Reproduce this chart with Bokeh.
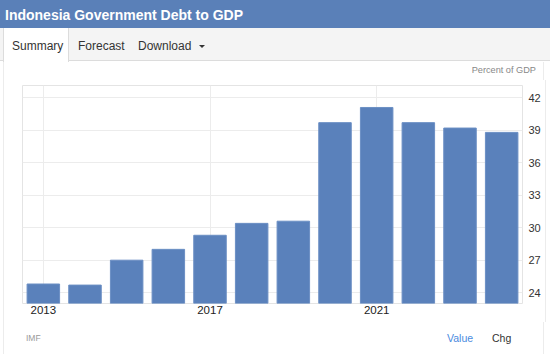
from bokeh.plotting import figure
from bokeh.models import Div, FixedTicker, ColumnDataSource, Range1d
from bokeh.layouts import column
from bokeh.embed import file_html
from bokeh.resources import INLINE

# ---- data ----
years = [2013, 2014, 2015, 2016, 2017, 2018, 2019, 2020, 2021, 2022, 2023, 2024]
debt_to_gdp = [24.8, 24.7, 27.0, 28.0, 29.3, 30.4, 30.6, 39.7, 41.1, 39.7, 39.2, 38.8]
x_tick_years = [2013, 2017, 2021]
y_ticks = [24, 27, 30, 33, 36, 39, 42]

title_text = "Indonesia Government Debt to GDP"
tab_labels = ["Summary", "Forecast", "Download"]
unit_text = "Percent of GDP"
source_text = "IMF"
footer_links = ["Value", "Chg"]

FONT = "'Liberation Sans', Arial, Helvetica, sans-serif"
BLUE = "#5a81bb"

# ---- header ----
header_html = f"""
<div style="position:relative;width:550px;height:80px;font-family:{FONT};overflow:hidden;background:#ffffff;">
  <div style="position:absolute;left:0;top:0;width:550px;height:28px;background:#5a80b8;"></div>
  <div style="position:absolute;left:5px;top:7px;font-size:14px;line-height:16px;font-weight:bold;color:#ffffff;white-space:nowrap;">{title_text}</div>
  <div style="position:absolute;left:0;top:28px;width:550px;height:33px;background:#f4f4f4;border-bottom:1px solid #dcdcdc;"></div>
  <div style="position:absolute;left:3px;top:28px;width:66px;height:34px;background:#ffffff;border-left:1px solid #dcdcdc;border-right:1px solid #dcdcdc;"></div>
  <div style="position:absolute;left:12px;top:39px;font-size:12px;line-height:14px;color:#333333;white-space:nowrap;">{tab_labels[0]}</div>
  <div style="position:absolute;left:78px;top:39px;font-size:12px;line-height:14px;color:#333333;white-space:nowrap;">{tab_labels[1]}</div>
  <div style="position:absolute;left:138px;top:39px;font-size:12px;line-height:14px;color:#333333;white-space:nowrap;">{tab_labels[2]}</div>
  <div style="position:absolute;left:199px;top:45px;width:0;height:0;border-left:3px solid transparent;border-right:3px solid transparent;border-top:3px solid #333333;"></div>
  <div style="position:absolute;left:3px;top:62px;width:541px;height:18px;border-left:1px solid #ececec;border-right:1px solid #ececec;"></div>
  <div style="position:absolute;right:14px;top:65px;font-size:9.2px;line-height:11px;color:#888888;white-space:nowrap;">{unit_text}</div>
</div>
"""
header = Div(text=header_html, width=550, height=80, margin=0)

# ---- chart ----
source = ColumnDataSource(dict(year=years, debt=debt_to_gdp))

p = figure(
    width=550, height=242,
    x_range=Range1d(2012.5, 2024.5),
    y_range=Range1d(23.0, 43.13),
    y_axis_location="right",
    output_backend="svg",
    toolbar_location=None,
    min_border_left=22, min_border_right=28,
    min_border_top=5, min_border_bottom=19,
    margin=0,
    styles={
        "background-image": "linear-gradient(#ececec,#ececec), linear-gradient(#ececec,#ececec)",
        "background-size": "1px 100%, 1px 100%",
        "background-position": "3px 0px, 545px 0px",
        "background-repeat": "no-repeat",
    },
)
p.border_fill_color = None
p.background_fill_color = "#ffffff"
p.outline_line_color = "#e4e4e4"

p.vbar(x="year", top="debt", bottom=0, width=0.78, source=source,
       fill_color=BLUE, line_color="#6b8fc4", line_width=1)

p.xaxis.ticker = FixedTicker(ticks=x_tick_years)
p.xaxis.major_label_overrides = {y: str(y) for y in x_tick_years}
p.yaxis.ticker = FixedTicker(ticks=y_ticks)

for ax in (p.xaxis, p.yaxis):
    ax.axis_line_color = None
    ax.major_tick_line_color = None
    ax.minor_tick_line_color = None
    ax.major_tick_out = 0
    ax.major_tick_in = 0
    ax.major_label_text_font = "Liberation Sans"

p.xaxis.major_label_text_font_size = "11.5px"
p.xaxis.major_label_text_color = "#222222"
p.xaxis.major_label_standoff = 2
p.yaxis.major_label_text_font_size = "11px"
p.yaxis.major_label_text_color = "#333333"
p.yaxis.major_label_standoff = 6

p.xgrid.grid_line_color = "#ececec"
p.ygrid.grid_line_color = "#ececec"

# ---- footer ----
footer_html = f"""
<div style="position:relative;width:550px;height:32px;font-family:{FONT};overflow:hidden;">
  <div style="position:absolute;left:3px;top:0;width:541px;height:32px;border-left:1px solid #ececec;border-right:1px solid #ececec;"></div>
  <div style="position:absolute;left:26px;top:11px;font-size:8.5px;line-height:10px;color:#999999;white-space:nowrap;">{source_text}</div>
  <div style="position:absolute;left:447px;top:10px;font-size:10.5px;line-height:12px;color:#4a8be0;white-space:nowrap;">{footer_links[0]}</div>
  <div style="position:absolute;left:492px;top:10px;font-size:10.5px;line-height:12px;color:#333333;white-space:nowrap;">{footer_links[1]}</div>
</div>
"""
footer = Div(text=footer_html, width=550, height=32, margin=0)

layout = column(header, p, footer, spacing=0, margin=0)

open("out.html", "w").write(file_html(layout, INLINE))
